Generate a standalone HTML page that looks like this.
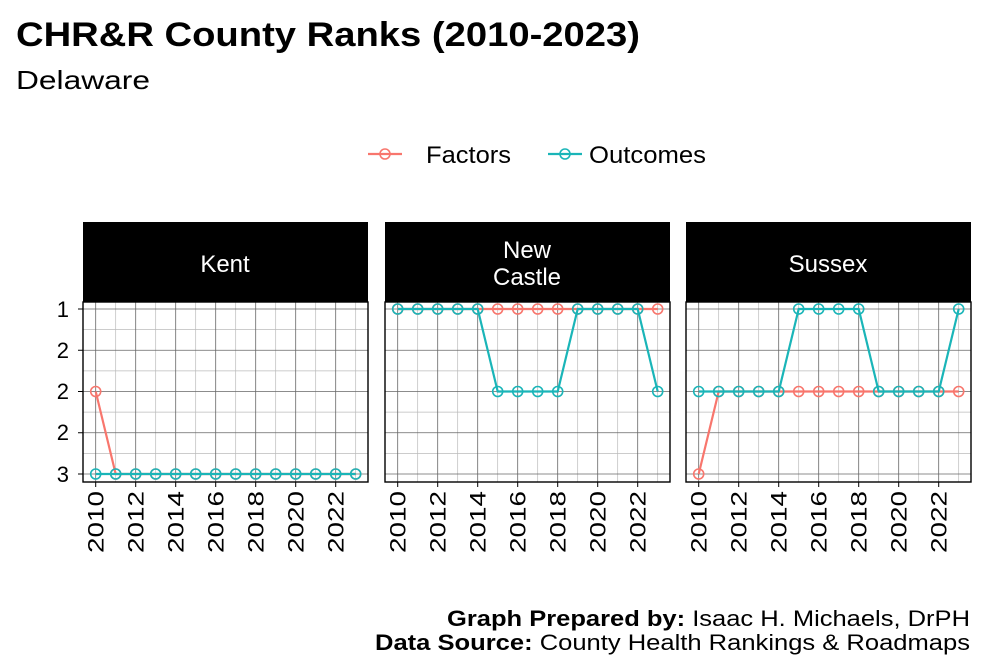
<!DOCTYPE html>
<html><head><meta charset="utf-8"><style>
body{margin:0;background:#fff;}
svg{display:block;font-family:"Liberation Sans",sans-serif;}
</style></head><body>
<svg id="s" width="987" height="672" viewBox="0 0 987 672" xmlns="http://www.w3.org/2000/svg">
<rect width="987" height="672" fill="#fff"/>
<text x="16" y="46" font-size="34" font-weight="bold" textLength="624" lengthAdjust="spacingAndGlyphs">CHR&amp;R County Ranks (2010-2023)</text>
<text x="16" y="89" font-size="26" textLength="134" lengthAdjust="spacingAndGlyphs">Delaware</text>
<line x1="368" y1="154" x2="402" y2="154" stroke="#F8766D" stroke-width="2.2"/>
<circle cx="385" cy="154" r="5" fill="none" stroke="#F8766D" stroke-width="1.6"/>
<text x="426" y="163" font-size="24" textLength="85" lengthAdjust="spacingAndGlyphs">Factors</text>
<line x1="548" y1="154" x2="582" y2="154" stroke="#1AB5B8" stroke-width="2.2"/>
<circle cx="565" cy="154" r="5" fill="none" stroke="#1AB5B8" stroke-width="1.6"/>
<text x="589" y="163" font-size="24" textLength="117" lengthAdjust="spacingAndGlyphs">Outcomes</text>
<g font-size="22" text-anchor="end">
<text x="69" y="317">1</text><text x="69" y="358">2</text><text x="69" y="399">2</text><text x="69" y="440">2</text><text x="69" y="482">3</text>
</g>
<g id="panels"></g>
<g font-size="24" fill="#fff" text-anchor="middle">
<text x="225" y="272">Kent</text>
<text x="527" y="258">New</text><text x="527" y="285">Castle</text>
<text x="828" y="272">Sussex</text>
</g>
<g font-size="22" id="xl"></g>
<text x="970" y="626" font-size="22" text-anchor="end" textLength="523" lengthAdjust="spacingAndGlyphs"><tspan font-weight="bold">Graph Prepared by:</tspan> Isaac H. Michaels, DrPH</text>
<text x="970" y="650" font-size="22" text-anchor="end" textLength="595" lengthAdjust="spacingAndGlyphs"><tspan font-weight="bold">Data Source:</tspan> County Health Rankings &amp; Roadmaps</text>
</svg>
<script>
var NS="http://www.w3.org/2000/svg";
var g=document.getElementById("panels"),xl=document.getElementById("xl");
function el(t,a,p){var e=document.createElementNS(NS,t);for(var k in a)e.setAttribute(k,a[k]);(p||g).appendChild(e);return e;}
var lefts=[83,385,686],W=285,T=302,B=482;
function Y(v){return 309+(v-1)*82.5;}
var data=[
 {f:[2,3,3,3,3,3,3,3,3,3,3,3,3,3],o:[3,3,3,3,3,3,3,3,3,3,3,3,3,3]},
 {f:[1,1,1,1,1,1,1,1,1,1,1,1,1,1],o:[1,1,1,1,1,2,2,2,2,1,1,1,1,2]},
 {f:[3,2,2,2,2,2,2,2,2,2,2,2,2,2],o:[2,2,2,2,2,1,1,1,1,2,2,2,2,1]}];
lefts.forEach(function(L,p){
 el("rect",{x:L,y:222,width:W,height:80,fill:"#000"});
 el("rect",{x:L,y:T,width:W,height:B-T,fill:"#fff"});
 var X=function(i){return L+12.7+20*i;};
 for(var v=1.25;v<3;v+=0.5)el("line",{x1:L,x2:L+W,y1:Y(v),y2:Y(v),stroke:"#bbb","stroke-width":0.7});
 for(var i=1;i<14;i+=2)el("line",{x1:X(i),x2:X(i),y1:T,y2:B,stroke:"#bbb","stroke-width":0.7});
 for(var v=1;v<=3;v+=0.5)el("line",{x1:L,x2:L+W,y1:Y(v),y2:Y(v),stroke:"#666","stroke-width":0.8});
 for(var i=0;i<14;i+=2)el("line",{x1:X(i),x2:X(i),y1:T,y2:B,stroke:"#666","stroke-width":0.8});
 el("rect",{x:L,y:T,width:W,height:B-T,fill:"none",stroke:"#000","stroke-width":1.4});
 if(p==0)for(var v=1;v<=3;v+=0.5)el("line",{x1:L-5,x2:L,y1:Y(v),y2:Y(v),stroke:"#000","stroke-width":1});
 for(var i=0;i<14;i+=2){el("line",{x1:X(i),x2:X(i),y1:B,y2:B+5,stroke:"#000","stroke-width":1});
  var t=el("text",{x:0,y:0,"text-anchor":"end",textLength:62,lengthAdjust:"spacingAndGlyphs",transform:"translate("+(X(i)+8)+","+(B+9)+") rotate(-90)"},xl);t.textContent=String(2010+i);}
 [["f","#F8766D"],["o","#1AB5B8"]].forEach(function(s){
  var d=data[p][s[0]],pts=d.map(function(v,i){return X(i)+","+Y(v);}).join(" ");
  el("polyline",{points:pts,fill:"none",stroke:s[1],"stroke-width":2.2});
  d.forEach(function(v,i){el("circle",{cx:X(i),cy:Y(v),r:5,fill:"none",stroke:s[1],"stroke-width":1.6});});
 });
});
</script>
</body></html>
